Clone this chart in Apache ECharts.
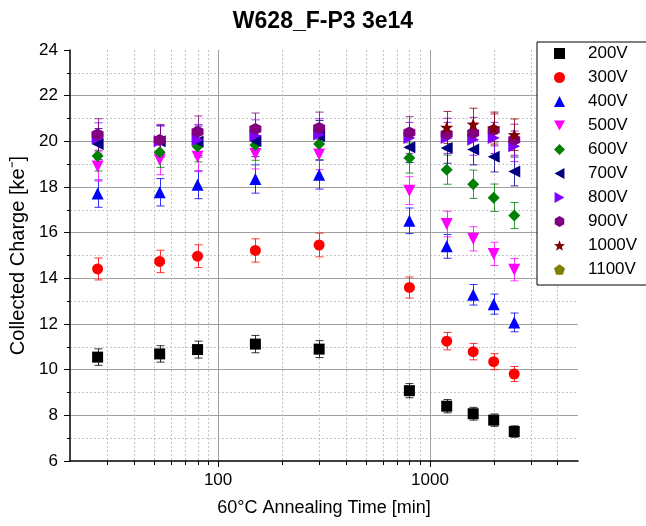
<!DOCTYPE html>
<html>
<head>
<meta charset="utf-8">
<script src="https://cdn.jsdelivr.net/npm/echarts@6/dist/echarts.min.js"></script>
<style>html,body{margin:0;padding:0;background:#fff}#c{width:646px;height:526px}</style>
</head>
<body>
<div id="c"></div>
<script>
// ---- data ----
const times = [27, 53, 80, 150, 300, 800, 1200, 1600, 2000, 2500];
const seriesNames = ['200V','300V','400V','500V','600V','700V','800V','900V','1000V','1100V'];
const v200 = [10.55, 10.69, 10.88, 11.12, 10.90, 9.08, 8.40, 8.07, 7.79, 7.29];
const e200 = [0.36, 0.36, 0.37, 0.38, 0.37, 0.31, 0.29, 0.28, 0.27, 0.25];
const v300 = [14.41, 14.74, 14.97, 15.22, 15.46, 13.60, 11.25, 10.79, 10.35, 9.81];
const e300 = [0.48, 0.49, 0.50, 0.51, 0.52, 0.46, 0.38, 0.36, 0.35, 0.33];
const v400 = [17.71, 17.77, 18.10, 18.35, 18.54, 16.52, 15.40, 13.28, 12.87, 12.07];
const e400 = [0.60, 0.60, 0.61, 0.62, 0.63, 0.56, 0.52, 0.45, 0.44, 0.41];
const v500 = [18.90, 19.19, 19.33, 19.45, 19.42, 17.84, 16.38, 15.73, 15.07, 14.38];
const e500 = [0.64, 0.65, 0.66, 0.66, 0.66, 0.61, 0.56, 0.53, 0.51, 0.49];
const v600 = [19.36, 19.52, 19.77, 19.84, 19.88, 19.27, 18.76, 18.12, 17.53, 16.75];
const e600 = [0.66, 0.66, 0.67, 0.67, 0.68, 0.66, 0.64, 0.62, 0.60, 0.57];
const v700 = [19.88, 20.00, 19.99, 20.01, 20.22, 19.74, 19.71, 19.64, 19.32, 18.68];
const e700 = [0.68, 0.68, 0.68, 0.68, 0.69, 0.67, 0.67, 0.67, 0.66, 0.63];
const v800 = [20.13, 20.00, 20.06, 20.25, 20.30, 20.15, 20.15, 20.07, 20.15, 19.78];
const e800 = [0.68, 0.68, 0.68, 0.69, 0.69, 0.68, 0.68, 0.68, 0.68, 0.67];
const v900 = [20.30, 20.06, 20.42, 20.54, 20.58, 20.39, 20.32, 20.36, 20.50, 20.07];
const e900 = [0.69, 0.68, 0.69, 0.70, 0.70, 0.69, 0.69, 0.69, 0.70, 0.68];
const v1000 = [null, null, null, null, null, null, 20.61, 20.75, 20.58, 20.29];
const e1000 = [null, null, null, null, null, null, 0.70, 0.70, 0.70, 0.69];
const v1100 = [null, null, null, null, null, null, null, null, null, null];
const e1100 = [null, null, null, null, null, null, null, null, null, null];
const xMajorTicks = [100, 1000];
const xMinorTicks = [30, 40, 50, 60, 70, 80, 90, 200, 300, 400, 500, 600, 700, 800, 900, 2000, 3000, 4000];

// ---- styles ----
function polyPath(n, rot, inner) {
  const pts = [];
  const total = inner ? n * 2 : n;
  for (let i = 0; i < total; i++) {
    const r = inner ? (i % 2 === 0 ? 1 : inner) : 1;
    const a = rot + i * Math.PI * 2 / total;
    pts.push((50 + 50 * r * Math.cos(a)).toFixed(2) + ',' + (50 + 50 * r * Math.sin(a)).toFixed(2));
  }
  return 'path://M' + pts.join('L') + 'Z';
}
const styles = [
  {color:'#000000', sym:'rect', size:11},
  {color:'#ff0000', sym:'circle', size:11},
  {color:'#0000ff', sym:'triangle', size:12},
  {color:'#ff00ff', sym:'path://M0,0L100,0L50,90Z', size:12},
  {color:'#008000', sym:'diamond', size:12},
  {color:'#000080', sym:'path://M90,0L90,100L0,50Z', size:12},
  {color:'#8000ff', sym:'path://M0,0L90,50L0,100Z', size:12},
  {color:'#800080', sym:polyPath(6, -Math.PI/2), size:12},
  {color:'#800000', sym:polyPath(5, -Math.PI/2, 0.42), size:13},
  {color:'#808000', sym:polyPath(5, -Math.PI/2), size:12}
];
const vals = [v200,v300,v400,v500,v600,v700,v800,v900,v1000,v1100];
const errs = [e200,e300,e400,e500,e600,e700,e800,e900,e1000,e1100];
const FONT = 'Liberation Sans, Arial, sans-serif';

const series = [];
series.push({
  type:'custom', silent:true, z:1, clip:false,
  data: xMinorTicks.map(v => [v, 6]),
  encode:{x:0, y:1},
  renderItem:(p, api) => {
    const b = api.coord([api.value(0), 6]);
    const t = api.coord([api.value(0), 24]);
    const x = Math.round(b[0]) + 0.5;
    return {type:'group', children:[
      {type:'line', shape:{x1:x, y1:t[1], x2:x, y2:b[1]}, style:{stroke:'#c4c4c4', lineWidth:1, lineDash:[2,2]}},
      {type:'line', shape:{x1:x, y1:b[1], x2:x, y2:b[1]+4}, style:{stroke:'#000', lineWidth:1}}
    ]};
  }
});
seriesNames.forEach((name, i) => {
  const st = styles[i];
  const pts = [];
  times.forEach((t, k) => { if (vals[i][k] != null) pts.push([t, vals[i][k], errs[i][k]]); });
  series.push({
    type:'custom', name: name + ' err', silent:true, clip:false,
    data: pts, encode:{x:0, y:1},
    renderItem:(p, api) => {
      const x = api.value(0), y = api.value(1), e = api.value(2);
      const lo = api.coord([x, y - e]), hi = api.coord([x, y + e]);
      const cx = Math.round(lo[0]) + 0.5;
      const s = {stroke: st.color, lineWidth:1, opacity:0.8};
      return {type:'group', children:[
        {type:'line', shape:{x1:cx, y1:lo[1], x2:cx, y2:hi[1]}, style:s},
        {type:'line', shape:{x1:cx-4, y1:lo[1], x2:cx+4, y2:lo[1]}, style:s},
        {type:'line', shape:{x1:cx-4, y1:hi[1], x2:cx+4, y2:hi[1]}, style:s}
      ]};
    }
  });
  series.push({
    type:'scatter', name: name, symbol: st.sym, symbolSize: st.size,
    itemStyle:{color: st.color, opacity:1},
    data: pts.map(d => [d[0], d[1]])
  });
});

const chart = echarts.init(document.getElementById('c'), null, {renderer:'canvas'});
chart.setOption({
  animation:false,
  backgroundColor:'#fff',
  title:{text:'W628_F-P3 3e14', left:'center', top:5,
    textStyle:{fontFamily:FONT, fontSize:23, fontWeight:'bold', color:'#000'}},
  grid:{left:70, right:68, top:50, bottom:65},
  legend:{
    orient:'vertical', left:537, top:42,
    padding:[3, 40, 7, 17],
    backgroundColor:'#fff', borderColor:'#000', borderWidth:1, borderRadius:0,
    itemWidth:11, itemHeight:11, itemGap:7,
    textStyle:{fontFamily:FONT, fontSize:17, color:'#000', padding:[0,0,0,18], lineHeight:17},
    data: seriesNames.map((n, i) => ({name:n, icon: styles[i].sym}))
  },
  xAxis:{
    type:'log', logBase:10, min:20, max:5000,
    name:'60°C Annealing Time [min]', nameLocation:'middle', nameGap:38,
    nameTextStyle:{fontFamily:FONT, fontSize:18, color:'#000'},
    axisLine:{show:true, lineStyle:{color:'#000', width:1.5}},
    axisTick:{show:true, inside:false, length:6, lineStyle:{color:'#000', width:1}},
    axisLabel:{fontFamily:FONT, fontSize:17, color:'#000', margin:11, showMinLabel:false, showMaxLabel:false,
      formatter: v => String(Math.round(v))},
    splitLine:{show:true, showMinLine:false, showMaxLine:false, lineStyle:{color:'#a0a0a0', width:1}}
  },
  yAxis:{
    type:'value', min:6, max:24, interval:2,
    name:'Collected Charge [ke⁻]', nameLocation:'middle', nameGap:32,
    nameTextStyle:{fontFamily:FONT, fontSize:20, color:'#000'},
    axisLine:{show:true, lineStyle:{color:'#000', width:1.5}},
    axisTick:{show:true, inside:false, length:6, lineStyle:{color:'#000', width:1}},
    minorTick:{show:true, splitNumber:2, length:3, lineStyle:{color:'#000', width:1}},
    axisLabel:{fontFamily:FONT, fontSize:17, color:'#000', margin:12},
    splitLine:{show:true, showMinLine:false, showMaxLine:false, lineStyle:{color:'#a0a0a0', width:1}},
    minorSplitLine:{show:true, lineStyle:{color:'#c4c4c4', width:1, type:[2,2]}}
  },
  series: series
});
</script>
</body>
</html>
